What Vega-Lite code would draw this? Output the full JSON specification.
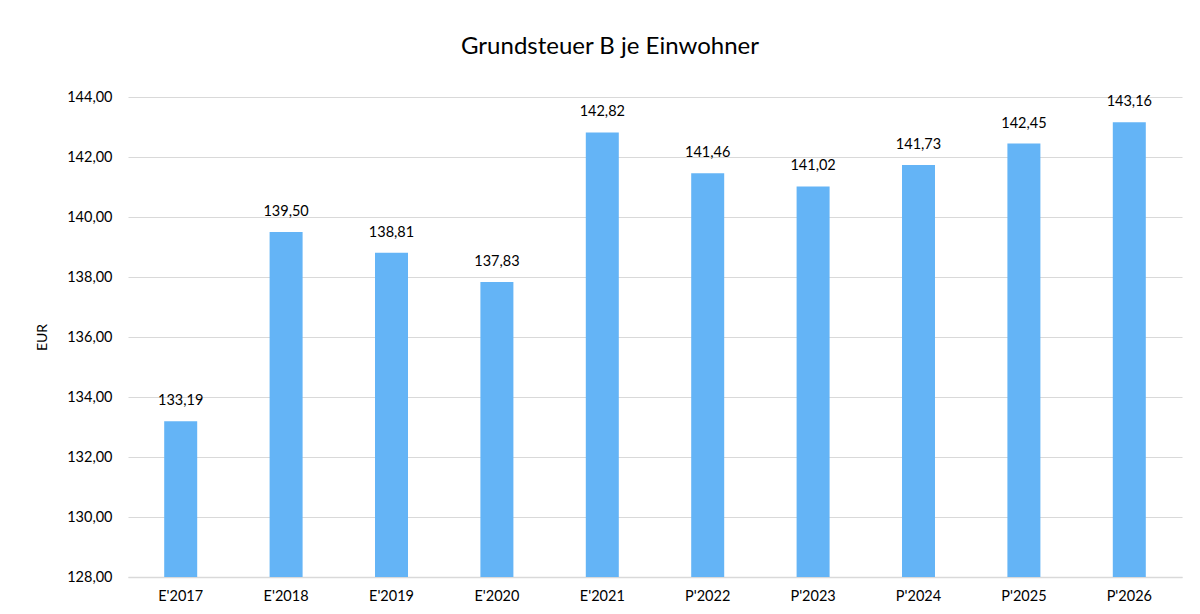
{
  "$schema": "https://vega.github.io/schema/vega-lite/v6.json",
  "autosize": {"type": "none"},
  "width": 1054,
  "height": 480,
  "padding": {"left": 128, "top": 97, "right": 18, "bottom": 37},
  "background": "white",
  "config": {
    "locale": {"number": {"decimal": ",", "thousands": ".", "grouping": [3], "currency": ["", " €"]}},
    "font": "Lato",
    "view": {"stroke": null}
  },
  "title": {
    "text": "Grundsteuer B je Einwohner",
    "fontSize": 24,
    "fontWeight": "normal",
    "color": "#000000",
    "anchor": "middle",
    "dx": -45,
    "offset": 30,
    "font": "Lato"
  },
  "data": {
    "values": [
      {"jahr": "E'2017", "wert": 133.19},
      {"jahr": "E'2018", "wert": 139.50},
      {"jahr": "E'2019", "wert": 138.81},
      {"jahr": "E'2020", "wert": 137.83},
      {"jahr": "E'2021", "wert": 142.82},
      {"jahr": "P'2022", "wert": 141.46},
      {"jahr": "P'2023", "wert": 141.02},
      {"jahr": "P'2024", "wert": 141.73},
      {"jahr": "P'2025", "wert": 142.45},
      {"jahr": "P'2026", "wert": 143.16}
    ]
  },
  "encoding": {
    "x": {
      "field": "jahr",
      "type": "nominal",
      "sort": null,
      "scale": {"paddingInner": 0, "paddingOuter": 0},
      "axis": {
        "title": null,
        "labelAngle": 0,
        "labelFontSize": 14.5,
        "labelColor": "#000000",
        "labelPadding": 12,
        "ticks": false,
        "domainColor": "#d9d9d9",
        "domainWidth": 1.5,
        "grid": false
      }
    },
    "y": {
      "field": "wert",
      "type": "quantitative",
      "scale": {"domain": [128, 144], "nice": false, "zero": false},
      "axis": {
        "title": "EUR",
        "titleFontSize": 14,
        "titleFontWeight": "normal",
        "titleColor": "#000000",
        "titlePadding": 17,
        "values": [128, 130, 132, 134, 136, 138, 140, 142, 144],
        "format": ".2f",
        "labelFontSize": 14.5,
        "labelColor": "#000000",
        "labelPadding": 16,
        "ticks": false,
        "domain": false,
        "gridColor": "#d9d9d9",
        "gridWidth": 1
      }
    }
  },
  "layer": [
    {
      "mark": {"type": "bar", "size": 33, "color": "#64B4F6", "clip": true}
    },
    {
      "mark": {"type": "text", "fontSize": 14.5, "color": "#000000", "baseline": "alphabetic", "dy": -16},
      "encoding": {
        "text": {"field": "wert", "type": "quantitative", "format": ".2f"}
      }
    }
  ]
}
